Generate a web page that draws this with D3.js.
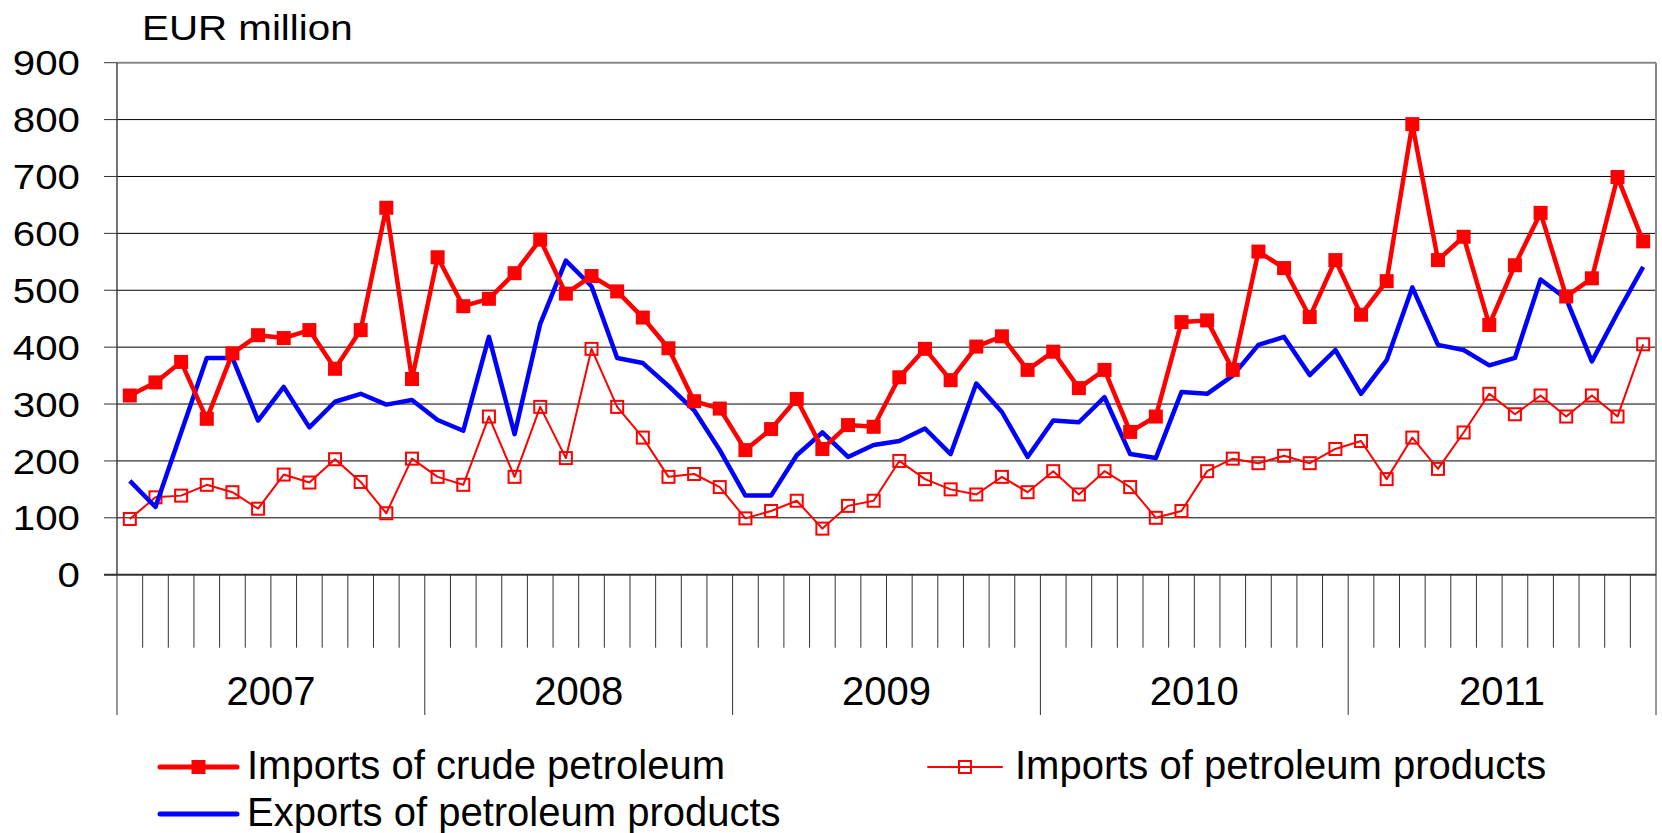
<!DOCTYPE html>
<html>
<head>
<meta charset="utf-8">
<script src="https://cdn.jsdelivr.net/npm/d3@7/dist/d3.min.js"></script>
<style>
  body { margin: 0; background: #fff; }
  svg text { font-family: "Liberation Sans", Arial, sans-serif; fill: #000; }
</style>
</head>
<body>
<div id="chart"></div>
<script>
// monthly values, EUR million, Jan 2007 .. Dec 2011
var years = ["2007", "2008", "2009", "2010", "2011"];
var yTicks = [0, 100, 200, 300, 400, 500, 600, 700, 800, 900];

var crudeImports = [
  315, 338, 374, 274, 389, 421, 416, 430, 362, 430, 645, 344,
  558, 472, 485, 530, 589, 494, 525, 498, 452, 398, 305, 292,
  219, 256, 309, 221, 263, 260, 347, 397, 342, 401, 419, 360,
  392, 328, 360, 251, 278, 444, 447, 360, 568, 539, 453, 553,
  457, 516, 792, 553, 594, 439, 544, 636, 489, 521, 699, 586
];
var productImports = [
  98, 136, 139, 158, 145, 116, 176, 162, 203, 163, 108, 204,
  172, 158, 278, 172, 295, 205, 397, 295, 241, 172, 177, 154,
  99, 112, 130, 81, 121, 130, 200, 168, 150, 141, 172, 145,
  182, 141, 182, 154, 100, 112, 182, 204, 196, 209, 196, 221,
  235, 168, 241, 186, 250, 318, 282, 315, 278, 315, 278, 405
];
var productExports = [
  165, 119, 250, 381, 381, 271, 330, 259, 304, 318, 299, 307,
  272, 253, 418, 247, 441, 552, 507, 381, 372, 332, 289, 219,
  139, 139, 210, 250, 207, 228, 235, 257, 212, 336, 286, 207,
  271, 268, 312, 212, 205, 321, 318, 350, 404, 418, 351, 395,
  318, 377, 505, 404, 395, 368, 381, 519, 485, 375, 460, 541
];
var seriesNames = [
  "Imports of crude petroleum",
  "Imports of petroleum products",
  "Exports of petroleum products"
];
var unitLabel = "EUR million";

// one category per month
var months = [];
years.forEach(function(yr) {
  for (var m = 1; m <= 12; m++) months.push(yr + "-" + m);
});

var width = 1662, height = 833;
var plot = { left: 117, right: 1656, top: 62.7, bottom: 574.7 };

var svg = d3.select("#chart").append("svg")
  .attr("width", width)
  .attr("height", height);

var x = d3.scaleBand().domain(months).range([plot.left, plot.right]);
var y = d3.scaleLinear().domain([0, 900]).range([plot.bottom, plot.top]);
var cx = function(i) { return x(months[i]) + x.bandwidth() / 2; };

// gridlines
svg.append("g").selectAll("line")
  .data(yTicks.filter(d => d > 0 && d < 900))
  .enter().append("line")
  .attr("x1", plot.left).attr("x2", plot.right)
  .attr("y1", d => y(d)).attr("y2", d => y(d))
  .attr("stroke", "#000").attr("stroke-width", 1);

// plot border (top / right are grey)
svg.append("line")
  .attr("x1", plot.left).attr("x2", plot.right)
  .attr("y1", plot.top).attr("y2", plot.top)
  .attr("stroke", "#888").attr("stroke-width", 2);
svg.append("line")
  .attr("x1", plot.right).attr("x2", plot.right)
  .attr("y1", plot.top).attr("y2", plot.bottom)
  .attr("stroke", "#888").attr("stroke-width", 2);

// y axis
var yAxis = svg.append("g");
yAxis.append("line")
  .attr("x1", plot.left).attr("x2", plot.left)
  .attr("y1", plot.top).attr("y2", plot.bottom)
  .attr("stroke", "#444").attr("stroke-width", 1.5);
yAxis.selectAll(".ytick").data(yTicks).enter().append("line")
  .attr("x1", plot.left - 13).attr("x2", plot.left)
  .attr("y1", d => y(d)).attr("y2", d => y(d))
  .attr("stroke", "#333").attr("stroke-width", 1);
yAxis.selectAll("text").data(yTicks).enter().append("text")
  .attr("transform", d => "translate(80," + y(d) + ") scale(1.12,1)")
  .attr("dy", "0.35em")
  .attr("text-anchor", "end")
  .attr("font-size", 36)
  .text(d => d);

svg.append("text")
  .attr("transform", "translate(142,40) scale(1.12,1)")
  .attr("font-size", 36)
  .text(unitLabel);

// x axis: month ticks, long ticks at year boundaries
var xAxis = svg.append("g");
xAxis.append("line")
  .attr("x1", plot.left - 13).attr("x2", plot.right)
  .attr("y1", plot.bottom).attr("y2", plot.bottom)
  .attr("stroke", "#333").attr("stroke-width", 2);
var bounds = d3.range(months.length + 1);
xAxis.selectAll(".xtick").data(bounds).enter().append("line")
  .attr("x1", i => plot.left + i * x.bandwidth())
  .attr("x2", i => plot.left + i * x.bandwidth())
  .attr("y1", plot.bottom)
  .attr("y2", i => (i % 12 === 0) ? 715 : 647.7)
  .attr("stroke", "#333").attr("stroke-width", 1);
xAxis.selectAll("text").data(years).enter().append("text")
  .attr("x", (d, i) => plot.left + (i * 12 + 6) * x.bandwidth())
  .attr("y", 705)
  .attr("text-anchor", "middle")
  .attr("font-size", 40)
  .text(d => d);

// series
var line = d3.line().x((d, i) => cx(i)).y(d => y(d));

svg.append("path").datum(productImports)
  .attr("d", line).attr("fill", "none")
  .attr("stroke", "#f00").attr("stroke-width", 2)
  .attr("stroke-linejoin", "round");
svg.append("g").selectAll("rect").data(productImports).enter().append("rect")
  .attr("x", (d, i) => cx(i) - 6).attr("y", d => y(d) - 6)
  .attr("width", 12).attr("height", 12)
  .attr("fill", "none").attr("stroke", "#f00").attr("stroke-width", 2);

svg.append("path").datum(productExports)
  .attr("d", line).attr("fill", "none")
  .attr("stroke", "#00f").attr("stroke-width", 4.5)
  .attr("stroke-linejoin", "round");

svg.append("path").datum(crudeImports)
  .attr("d", line).attr("fill", "none")
  .attr("stroke", "#f00").attr("stroke-width", 4.5)
  .attr("stroke-linejoin", "round");
svg.append("g").selectAll("rect").data(crudeImports).enter().append("rect")
  .attr("x", (d, i) => cx(i) - 7).attr("y", d => y(d) - 7)
  .attr("width", 14).attr("height", 14)
  .attr("fill", "#f00");

// legend
var legend = svg.append("g");
var items = [
  { name: seriesNames[0], x: 160, y: 767, len: 77, color: "#f00", w: 5, mark: "filled" },
  { name: seriesNames[1], x: 928, y: 767, len: 74, color: "#f00", w: 2, mark: "hollow" },
  { name: seriesNames[2], x: 160, y: 814, len: 77, color: "#00f", w: 5, mark: null }
];
items.forEach(function(it) {
  legend.append("line")
    .attr("x1", it.x).attr("x2", it.x + it.len)
    .attr("y1", it.y).attr("y2", it.y)
    .attr("stroke", it.color).attr("stroke-width", it.w)
    .attr("stroke-linecap", "round");
  var mx = it.x + it.len / 2;
  if (it.mark === "filled") {
    legend.append("rect").attr("x", mx - 7).attr("y", it.y - 7)
      .attr("width", 14).attr("height", 14).attr("fill", it.color);
  } else if (it.mark === "hollow") {
    legend.append("rect").attr("x", mx - 6).attr("y", it.y - 6)
      .attr("width", 12).attr("height", 12)
      .attr("fill", "none").attr("stroke", it.color).attr("stroke-width", 2);
  }
  legend.append("text")
    .attr("x", it.x + it.len + 10 + (it.mark === "hollow" ? 3 : 0))
    .attr("y", it.y + 12)
    .attr("font-size", 40)
    .text(it.name);
});
</script>
</body>
</html>
